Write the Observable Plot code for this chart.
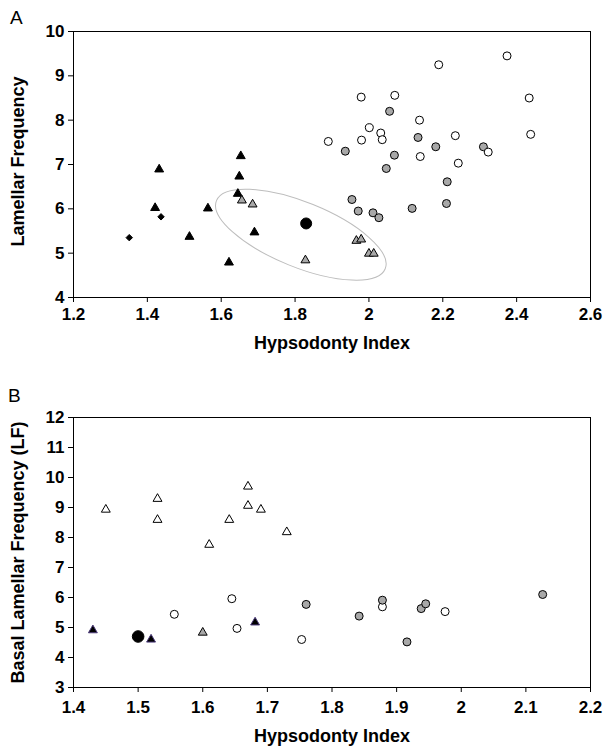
<!DOCTYPE html>
<html>
<head>
<meta charset="utf-8">
<script src="https://cdn.jsdelivr.net/npm/d3@7"></script>
<script src="https://cdn.jsdelivr.net/npm/@observablehq/plot@0.6"></script>
<style>
  html, body { margin: 0; padding: 0; background: #fff; }
  #chart { width: 606px; position: relative; font-family: 'Liberation Sans', Arial, Helvetica, sans-serif; }
  #chart svg { display: block; overflow: visible; }
  #chart svg text { font-weight: 700 !important; }
  .panel { position: absolute; font-size: 19px; line-height: 19px; font-weight: normal; color: black; }
</style>
</head>
<body>
<div id="chart"></div>
<script>
// ---------- Panel A data (Hypsodonty Index, Lamellar Frequency) ----------
const aDiamondsBlack = [[1.351, 5.35], [1.437, 5.82]];
const aTrianglesBlack = [[1.432, 6.89], [1.421, 6.02], [1.514, 5.37], [1.564, 6.01], [1.653, 7.19],
  [1.649, 6.73], [1.645, 6.34], [1.690, 5.47], [1.621, 4.79]];
const aTrianglesGrey = [[1.656, 6.19], [1.685, 6.10], [1.828, 4.84], [1.966, 5.28], [1.979, 5.31],
  [2.000, 4.99], [2.013, 4.99]];
const aCircleBlack = [[1.830, 5.67]];
const aCirclesOpen = [[1.890, 7.52], [1.979, 8.52], [2.070, 8.56], [2.189, 9.25], [2.374, 9.45],
  [2.434, 8.50], [2.438, 7.68], [2.137, 8.00], [2.001, 7.83], [2.032, 7.71], [1.980, 7.55],
  [2.036, 7.56], [2.234, 7.65], [2.139, 7.18], [2.242, 7.03], [2.323, 7.28]];
const aCirclesGrey = [[2.056, 8.20], [1.936, 7.30], [2.133, 7.61], [2.181, 7.40], [2.069, 7.21],
  [2.047, 6.91], [2.310, 7.40], [2.212, 6.61], [2.210, 6.12], [1.954, 6.21], [1.971, 5.95],
  [2.011, 5.91], [2.027, 5.80], [2.117, 6.01]];
const aEllipse = {cx: 1.817, cy: 5.405, rx: 91, ry: 32.5, angle: 22};
const aXTicks = [1.2, 1.4, 1.6, 1.8, 2.0, 2.2, 2.4, 2.6];
const aYTicks = [4, 5, 6, 7, 8, 9, 10];

// ---------- Panel B data (Hypsodonty Index, Basal Lamellar Frequency) ----------
const bTrianglesOpen = [[1.450, 8.93], [1.530, 9.29], [1.530, 8.59], [1.610, 7.76], [1.641, 8.59],
  [1.670, 9.70], [1.670, 9.06], [1.690, 8.93], [1.730, 8.18]];
const bTrianglesBlack = [[1.430, 4.91], [1.520, 4.60], [1.681, 5.17]];
const bTrianglesGrey = [[1.600, 4.83]];
const bCircleBlack = [[1.500, 4.70]];
const bCirclesOpen = [[1.556, 5.44], [1.645, 5.96], [1.653, 4.97], [1.753, 4.60], [1.878, 5.69], [1.975, 5.53]];
const bCirclesGrey = [[1.760, 5.77], [1.842, 5.38], [1.878, 5.91], [1.916, 4.52], [1.938, 5.63],
  [1.945, 5.79], [2.126, 6.10]];
const bXTicks = [1.4, 1.5, 1.6, 1.7, 1.8, 1.9, 2.0, 2.1, 2.2];
const bYTicks = [3, 4, 5, 6, 7, 8, 9, 10, 11, 12];

const panelLabels = ["A", "B"];
const xLabel = "Hypsodonty Index";
const aYLabel = "Lamellar Frequency";
const bYLabel = "Basal Lamellar Frequency (LF)";

const GREY = "#a8a8a8";
const FONT = "'Liberation Sans', Arial, Helvetica, sans-serif";
const fmt = d3.format("~g");
const px = d => d[0], py = d => d[1];

function dots(data, symbol, r, fill, stroke = "black") {
  return Plot.dot(data, {x: px, y: py, symbol, r, fill, stroke, strokeWidth: 1});
}

function ellipseMark(e) {
  return (index, scales) => d3.create("svg:ellipse")
    .attr("cx", 0).attr("cy", 0).attr("rx", e.rx).attr("ry", e.ry)
    .attr("fill", "none").attr("stroke", "#bdbdbd").attr("stroke-width", 1)
    .attr("transform", `translate(${scales.x(e.cx)},${scales.y(e.cy)}) rotate(${e.angle})`)
    .node();
}

const style = {fontFamily: FONT, fontSize: "17px", fontWeight: "bold", color: "black", background: "white"};

const plotA = Plot.plot({
  width: 606, height: 385,
  marginTop: 31, marginBottom: 88, marginLeft: 73, marginRight: 16,
  style,
  x: {domain: [1.2, 2.6], ticks: aXTicks, tickFormat: fmt, tickSize: 5, tickPadding: 5, label: null},
  y: {domain: [4, 10], ticks: aYTicks, tickFormat: fmt, tickSize: 5, tickPadding: 4, label: null},
  marks: [
    Plot.frame({stroke: "black", strokeWidth: 1}),
    ellipseMark(aEllipse),
    dots(aDiamondsBlack, "diamond2", 2.9, "black"),
    dots(aTrianglesBlack, "triangle", 3.3, "black"),
    dots(aTrianglesGrey, "triangle", 3.3, GREY),
    dots(aCirclesGrey, "circle", 4, GREY),
    dots(aCirclesOpen, "circle", 4, "white"),
    dots(aCircleBlack, "circle", 5.5, "black"),
    Plot.text([xLabel], {frameAnchor: "bottom", dy: 46, lineAnchor: "middle", textAnchor: "middle", fontSize: 18, fill: "black"}),
    Plot.text([aYLabel], {frameAnchor: "left", dx: -55, dy: -3, rotate: -90, lineAnchor: "middle", textAnchor: "middle", fontSize: 18, fill: "black"})
  ]
});

const plotB = Plot.plot({
  width: 606, height: 362,
  marginTop: 32, marginBottom: 60, marginLeft: 73, marginRight: 16,
  style,
  x: {domain: [1.4, 2.2], ticks: bXTicks, tickFormat: fmt, tickSize: 5, tickPadding: 8, label: null},
  y: {domain: [3, 12], ticks: bYTicks, tickFormat: fmt, tickSize: 5, tickPadding: 4, label: null},
  marks: [
    Plot.frame({stroke: "black", strokeWidth: 1}),
    dots(bTrianglesOpen, "triangle", 3.3, "white"),
    dots(bTrianglesBlack, "triangle", 3.3, "black", "#4b3a7a"),
    dots(bTrianglesGrey, "triangle", 3.3, GREY),
    dots(bCirclesOpen, "circle", 4, "white"),
    dots(bCirclesGrey, "circle", 4, GREY),
    dots(bCircleBlack, "circle", 5.8, "black"),
    Plot.text([xLabel], {frameAnchor: "bottom", dy: 49, lineAnchor: "middle", textAnchor: "middle", fontSize: 18, fill: "black"}),
    Plot.text([bYLabel], {frameAnchor: "left", dx: -55, rotate: -90, lineAnchor: "middle", textAnchor: "middle", fontSize: 18, fill: "black"})
  ]
});

const chart = document.getElementById("chart");
chart.appendChild(plotA);
chart.appendChild(plotB);
const labelPos = [{left: 10, top: 7.5}, {left: 8, top: 386}];
panelLabels.forEach((t, i) => {
  const d = document.createElement("div");
  d.className = "panel";
  d.textContent = t;
  d.style.left = labelPos[i].left + "px";
  d.style.top = labelPos[i].top + "px";
  chart.appendChild(d);
});
</script>
</body>
</html>
